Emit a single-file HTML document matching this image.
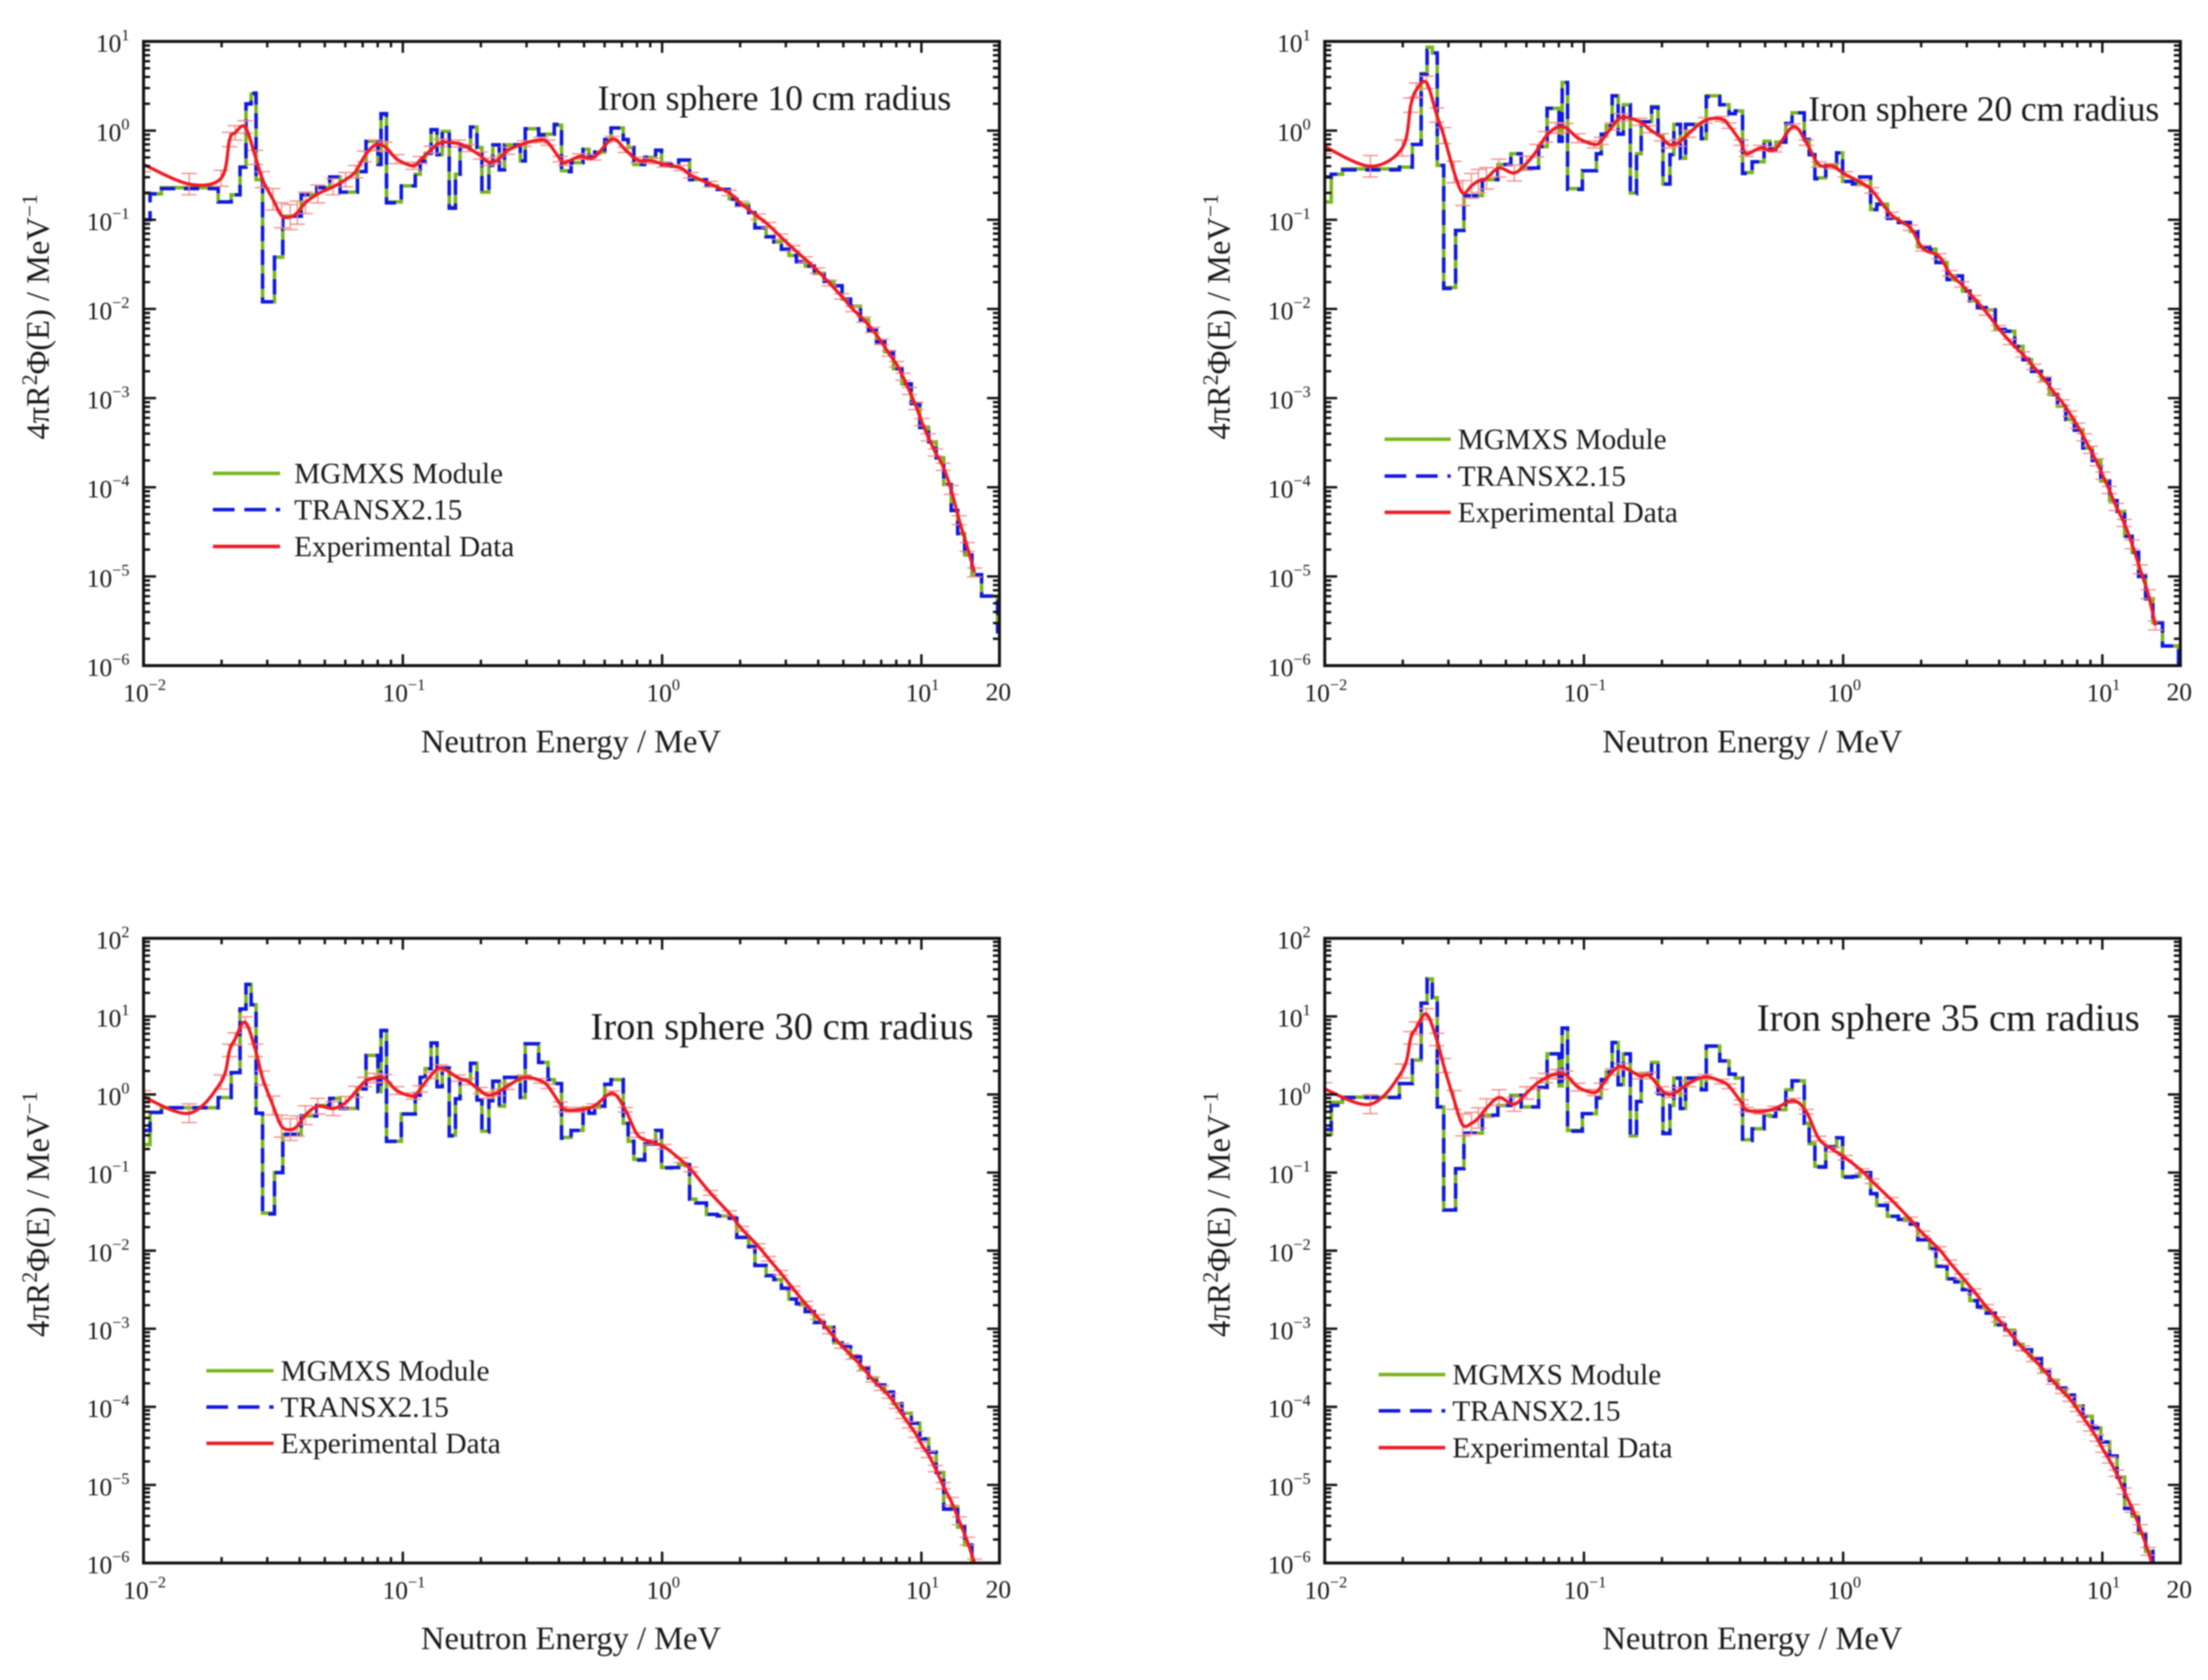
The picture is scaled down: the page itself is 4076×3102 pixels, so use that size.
<!DOCTYPE html>
<html lang="en">
<head>
<meta charset="utf-8">
<title>Iron sphere neutron leakage spectra</title>
<style>
html,body{margin:0;padding:0;background:#fff;width:4076px;height:3102px;overflow:hidden}
svg{display:block;filter:blur(1.2px)}
text{font-family:"Liberation Serif",serif;fill:#1a1a1a}
.tl{font-size:47px}
.ax{font-size:60px}
.lg{font-size:54px}
</style>
</head>
<body>
<svg id="figure" xmlns="http://www.w3.org/2000/svg" width="4076" height="3102" viewBox="0 0 4076 3102">
<rect width="4076" height="3102" fill="#fff"/>

<g id="panel-10">
  <text x="1103" y="203" font-size="66" textLength="653">Iron sphere 10 cm radius</text>
  <text class="ax" x="1054" y="1389" text-anchor="middle">Neutron Energy / MeV</text>
  <text class="ax" transform="translate(90,585) rotate(-90)" text-anchor="middle">4πR<tspan dy="-22" font-size="40">2</tspan><tspan dy="22">Φ(E) / MeV</tspan><tspan dy="-22" font-size="40">−1</tspan></text>
  <g>
    <line x1="393" x2="517" y1="874" y2="874" stroke="#7ab51d" stroke-width="6.5"/>
    <line x1="393" x2="517" y1="941" y2="941" stroke="#1018e0" stroke-width="6.5" stroke-dasharray="40 18"/>
    <line x1="393" x2="517" y1="1009" y2="1009" stroke="#ee1c25" stroke-width="6.5"/>
    <text class="lg" x="543" y="892">MGMXS Module</text>
    <text class="lg" x="543" y="959">TRANSX2.15</text>
    <text class="lg" x="543" y="1027">Experimental Data</text>
  </g>
</g>

<g id="panel-20">
  <text x="3338" y="223" font-size="66" textLength="648">Iron sphere 20 cm radius</text>
  <text class="ax" x="3235" y="1389" text-anchor="middle">Neutron Energy / MeV</text>
  <text class="ax" transform="translate(2270,585) rotate(-90)" text-anchor="middle">4πR<tspan dy="-22" font-size="40">2</tspan><tspan dy="22">Φ(E) / MeV</tspan><tspan dy="-22" font-size="40">−1</tspan></text>
  <g>
    <line x1="2556" x2="2678" y1="811" y2="811" stroke="#7ab51d" stroke-width="6.5"/>
    <line x1="2556" x2="2678" y1="879" y2="879" stroke="#1018e0" stroke-width="6.5" stroke-dasharray="40 18"/>
    <line x1="2556" x2="2678" y1="946" y2="946" stroke="#ee1c25" stroke-width="6.5"/>
    <text class="lg" x="2691" y="829">MGMXS Module</text>
    <text class="lg" x="2691" y="897">TRANSX2.15</text>
    <text class="lg" x="2691" y="964">Experimental Data</text>
  </g>
</g>

<g id="panel-30">
  <text x="1090" y="1919" font-size="71" textLength="707">Iron sphere 30 cm radius</text>
  <text class="ax" x="1054" y="3045" text-anchor="middle">Neutron Energy / MeV</text>
  <text class="ax" transform="translate(90,2242) rotate(-90)" text-anchor="middle">4πR<tspan dy="-22" font-size="40">2</tspan><tspan dy="22">Φ(E) / MeV</tspan><tspan dy="-22" font-size="40">−1</tspan></text>
  <g>
    <line x1="381" x2="505" y1="2531" y2="2531" stroke="#7ab51d" stroke-width="6.5"/>
    <line x1="381" x2="505" y1="2598" y2="2598" stroke="#1018e0" stroke-width="6.5" stroke-dasharray="40 18"/>
    <line x1="381" x2="505" y1="2665" y2="2665" stroke="#ee1c25" stroke-width="6.5"/>
    <text class="lg" x="518" y="2549">MGMXS Module</text>
    <text class="lg" x="518" y="2616">TRANSX2.15</text>
    <text class="lg" x="518" y="2683">Experimental Data</text>
  </g>
</g>

<g id="panel-35">
  <text x="3243" y="1903" font-size="71" textLength="707">Iron sphere 35 cm radius</text>
  <text class="ax" x="3235" y="3045" text-anchor="middle">Neutron Energy / MeV</text>
  <text class="ax" transform="translate(2270,2242) rotate(-90)" text-anchor="middle">4πR<tspan dy="-22" font-size="40">2</tspan><tspan dy="22">Φ(E) / MeV</tspan><tspan dy="-22" font-size="40">−1</tspan></text>
  <g>
    <line x1="2545" x2="2668" y1="2538" y2="2538" stroke="#7ab51d" stroke-width="6.5"/>
    <line x1="2545" x2="2668" y1="2605" y2="2605" stroke="#1018e0" stroke-width="6.5" stroke-dasharray="40 18"/>
    <line x1="2545" x2="2668" y1="2673" y2="2673" stroke="#ee1c25" stroke-width="6.5"/>
    <text class="lg" x="2681" y="2556">MGMXS Module</text>
    <text class="lg" x="2681" y="2623">TRANSX2.15</text>
    <text class="lg" x="2681" y="2691">Experimental Data</text>
  </g>
</g>
</svg>

<script>
// log10(E / MeV) group boundaries, shared by all panels
const groupLogEnergy = [-2.000,-1.975,-1.931,-1.712,-1.662,-1.628,-1.605,-1.585,-1.566,-1.541,-1.495,-1.463,-1.392,-1.332,-1.282,-1.242,-1.175,-1.142,-1.096,-1.084,-1.063,-1.006,-0.952,-0.933,-0.914,-0.891,-0.868,-0.848,-0.821,-0.797,-0.779,-0.739,-0.714,-0.695,-0.668,-0.653,-0.628,-0.608,-0.547,-0.528,-0.476,-0.440,-0.416,-0.388,-0.351,-0.305,-0.282,-0.260,-0.221,-0.197,-0.150,-0.131,-0.109,-0.067,-0.025,-0.002,0.036,0.064,0.106,0.130,0.171,0.213,0.259,0.288,0.334,0.358,0.401,0.431,0.460,0.489,0.518,0.552,0.587,0.625,0.662,0.694,0.727,0.765,0.796,0.827,0.859,0.892,0.925,0.961,0.994,1.028,1.057,1.086,1.115,1.140,1.167,1.195,1.232,1.294,1.301];

// log10 of group flux, one value per energy group
const mgmxs10 = [-0.70,-0.71,-0.64,-0.80,-0.72,-0.41,0.30,0.41,-0.55,-1.92,-1.42,-0.96,-0.72,-0.64,-0.52,-0.69,-0.46,-0.12,-0.38,0.18,-0.80,-0.62,-0.49,-0.34,-0.255,0.01,-0.27,-0.01,-0.86,-0.49,-0.18,0.04,-0.19,-0.69,-0.39,-0.16,-0.44,-0.16,-0.34,0.02,-0.04,-0.04,0.06,-0.45,-0.36,-0.21,-0.29,-0.24,-0.10,0.03,-0.10,-0.19,-0.38,-0.30,-0.22,-0.38,-0.40,-0.33,-0.54,-0.55,-0.62,-0.66,-0.765,-0.83,-0.92,-1.09,-1.19,-1.25,-1.33,-1.40,-1.47,-1.52,-1.60,-1.69,-1.74,-1.89,-1.97,-2.12,-2.24,-2.37,-2.48,-2.67,-2.84,-3.06,-3.33,-3.49,-3.67,-3.97,-4.26,-4.52,-4.76,-4.98,-5.22,-5.62];
const transx10 = [-1.00,-0.71,-0.65,-0.80,-0.72,-0.41,0.30,0.42,-0.55,-1.92,-1.42,-0.96,-0.72,-0.64,-0.52,-0.69,-0.46,-0.12,-0.38,0.19,-0.81,-0.62,-0.49,-0.34,-0.255,0.01,-0.27,-0.01,-0.87,-0.49,-0.18,0.04,-0.19,-0.68,-0.39,-0.16,-0.44,-0.16,-0.34,0.02,-0.05,-0.04,0.07,-0.46,-0.36,-0.21,-0.29,-0.24,-0.10,0.03,-0.10,-0.19,-0.38,-0.30,-0.22,-0.38,-0.40,-0.33,-0.55,-0.55,-0.62,-0.66,-0.77,-0.83,-0.92,-1.09,-1.19,-1.25,-1.33,-1.40,-1.47,-1.52,-1.61,-1.69,-1.74,-1.89,-1.97,-2.12,-2.24,-2.37,-2.48,-2.67,-2.84,-3.06,-3.33,-3.49,-3.67,-3.97,-4.26,-4.52,-4.76,-4.98,-5.22,-5.62];

const mgmxs20 = [-0.80,-0.49,-0.43,-0.41,-0.155,0.64,0.935,0.87,-0.39,-1.76,-1.12,-0.73,-0.55,-0.38,-0.26,-0.42,-0.18,0.25,-0.12,0.54,-0.65,-0.45,-0.26,-0.04,0.055,0.39,-0.04,0.29,-0.70,-0.26,0.10,0.27,-0.05,-0.60,-0.27,0.07,-0.31,0.07,-0.09,0.39,0.29,0.19,0.22,-0.47,-0.35,-0.12,-0.21,-0.13,0.08,0.20,-0.10,-0.27,-0.53,-0.39,-0.25,-0.57,-0.59,-0.52,-0.885,-0.825,-0.985,-1.03,-1.13,-1.305,-1.33,-1.48,-1.67,-1.63,-1.80,-1.91,-1.985,-2.01,-2.23,-2.25,-2.42,-2.57,-2.70,-2.79,-2.96,-3.09,-3.24,-3.36,-3.56,-3.70,-3.93,-4.15,-4.27,-4.55,-4.73,-5.00,-5.25,-5.52,-5.78,-6.20];
const transx20 = [-0.52,-0.49,-0.44,-0.41,-0.155,0.63,0.90,0.87,-0.39,-1.77,-1.12,-0.73,-0.55,-0.38,-0.26,-0.42,-0.18,0.25,-0.12,0.54,-0.66,-0.45,-0.26,-0.04,0.055,0.39,-0.04,0.29,-0.71,-0.26,0.10,0.26,-0.05,-0.60,-0.27,0.07,-0.31,0.07,-0.09,0.38,0.29,0.19,0.22,-0.48,-0.35,-0.12,-0.21,-0.13,0.08,0.20,-0.10,-0.27,-0.54,-0.39,-0.25,-0.57,-0.60,-0.52,-0.885,-0.825,-0.985,-1.03,-1.13,-1.305,-1.34,-1.48,-1.67,-1.63,-1.80,-1.91,-1.985,-2.01,-2.23,-2.25,-2.42,-2.57,-2.70,-2.79,-2.96,-3.09,-3.24,-3.36,-3.56,-3.70,-3.93,-4.15,-4.27,-4.55,-4.73,-5.00,-5.25,-5.52,-5.78,-6.20];

const mgmxs30 = [-0.64,-0.23,-0.17,-0.04,0.28,1.095,1.41,1.15,-0.24,-1.52,-1.00,-0.51,-0.275,-0.14,-0.05,-0.18,0.07,0.50,0.035,0.82,-0.60,-0.25,-0.01,0.22,0.33,0.66,0.10,0.34,-0.52,-0.055,0.19,0.40,-0.07,-0.47,-0.08,0.17,-0.15,0.22,-0.04,0.65,0.41,0.19,0.14,-0.55,-0.46,-0.17,-0.24,-0.15,0.13,0.19,-0.37,-0.60,-0.83,-0.635,-0.46,-0.935,-0.935,-0.90,-1.34,-1.39,-1.535,-1.555,-1.585,-1.83,-1.95,-2.19,-2.32,-2.37,-2.48,-2.62,-2.68,-2.78,-2.92,-2.98,-3.18,-3.23,-3.36,-3.51,-3.63,-3.72,-3.81,-3.96,-4.08,-4.21,-4.41,-4.58,-4.84,-5.31,-5.28,-5.54,-5.77,-6.10,-6.50,-7.00];
const transx30 = [-0.46,-0.23,-0.17,-0.04,0.28,1.095,1.41,1.15,-0.24,-1.53,-1.00,-0.51,-0.275,-0.14,-0.05,-0.18,0.07,0.50,0.035,0.82,-0.60,-0.25,-0.01,0.22,0.33,0.66,0.10,0.34,-0.53,-0.055,0.19,0.40,-0.07,-0.48,-0.08,0.17,-0.15,0.22,-0.04,0.65,0.41,0.19,0.14,-0.56,-0.46,-0.17,-0.24,-0.15,0.13,0.19,-0.37,-0.60,-0.84,-0.635,-0.46,-0.94,-0.935,-0.90,-1.34,-1.39,-1.535,-1.555,-1.585,-1.83,-1.95,-2.19,-2.32,-2.37,-2.48,-2.62,-2.68,-2.78,-2.92,-2.98,-3.18,-3.23,-3.36,-3.51,-3.63,-3.72,-3.81,-3.96,-4.08,-4.21,-4.41,-4.58,-4.84,-5.31,-5.28,-5.54,-5.77,-6.10,-6.50,-7.00];

const mgmxs35 = [-0.51,-0.10,-0.035,0.14,0.44,1.17,1.48,1.24,-0.16,-1.48,-0.95,-0.495,-0.265,-0.14,-0.01,-0.16,0.09,0.52,0.11,0.85,-0.46,-0.245,-0.045,0.19,0.29,0.665,0.125,0.52,-0.53,-0.09,0.27,0.41,0.01,-0.495,-0.14,0.21,-0.18,0.21,0.06,0.62,0.43,0.26,0.21,-0.58,-0.44,-0.265,-0.28,-0.195,0.06,0.175,-0.37,-0.63,-0.92,-0.67,-0.555,-1.05,-1.05,-1.00,-1.27,-1.42,-1.56,-1.60,-1.66,-1.86,-1.97,-2.20,-2.36,-2.40,-2.50,-2.64,-2.72,-2.80,-2.95,-3.02,-3.20,-3.27,-3.38,-3.55,-3.66,-3.76,-3.85,-3.99,-4.12,-4.27,-4.45,-4.63,-4.90,-5.30,-5.40,-5.62,-5.85,-6.20,-6.60,-7.00];
const transx35 = [-0.45,-0.14,-0.04,0.14,0.44,1.17,1.48,1.24,-0.16,-1.48,-0.95,-0.495,-0.265,-0.14,-0.01,-0.16,0.09,0.52,0.11,0.85,-0.47,-0.245,-0.045,0.19,0.29,0.665,0.125,0.52,-0.53,-0.09,0.27,0.41,0.01,-0.50,-0.14,0.21,-0.18,0.21,0.06,0.62,0.43,0.26,0.21,-0.59,-0.44,-0.265,-0.28,-0.195,0.06,0.175,-0.37,-0.63,-0.93,-0.67,-0.555,-1.06,-1.05,-1.00,-1.27,-1.42,-1.56,-1.60,-1.66,-1.86,-1.97,-2.20,-2.36,-2.40,-2.50,-2.64,-2.72,-2.80,-2.95,-3.02,-3.20,-3.27,-3.38,-3.55,-3.66,-3.76,-3.85,-3.99,-4.12,-4.27,-4.45,-4.63,-4.90,-5.30,-5.40,-5.62,-5.85,-6.20,-6.60,-7.00];

// experimental points: log10(E / MeV), shared by all panels
const expLogEnergy = [-2.000,-1.824,-1.701,-1.668,-1.647,-1.608,-1.568,-1.541,-1.501,-1.468,-1.434,-1.407,-1.376,-1.328,-1.269,-1.221,-1.182,-1.148,-1.109,-1.069,-1.023,-0.960,-0.933,-0.891,-0.853,-0.785,-0.747,-0.701,-0.672,-0.635,-0.597,-0.532,-0.468,-0.440,-0.393,-0.374,-0.319,-0.263,-0.192,-0.142,-0.094,-0.040,0.008,0.073,0.111,0.186,0.259,0.307,0.370,0.411,0.457,0.505,0.553,0.599,0.645,0.693,0.735,0.777,0.812,0.846,0.875,0.904,0.929,0.954,0.979,1.002,1.027,1.054,1.084,1.115,1.146,1.177,1.205];
// half-height of each error bar, in decades
const expLogError = [0.08,0.12,0.09,0.08,0.08,0.07,0.08,0.09,0.12,0.14,0.14,0.13,0.12,0.10,0.09,0.08,0.07,0.06,0.06,0.05,0.05,0.04,0.04,0.04,0.04,0.04,0.04,0.04,0.04,0.04,0.04,0.03,0.03,0.03,0.03,0.03,0.03,0.03,0.03,0.03,0.03,0.03,0.03,0.03,0.03,0.03,0.03,0.03,0.03,0.03,0.03,0.03,0.03,0.03,0.03,0.03,0.03,0.03,0.03,0.03,0.03,0.03,0.04,0.04,0.04,0.04,0.04,0.04,0.04,0.05,0.05,0.05,0.05];

const exp10 = [-0.38,-0.60,-0.535,-0.10,-0.025,0.04,-0.30,-0.55,-0.77,-0.95,-0.97,-0.92,-0.81,-0.71,-0.63,-0.55,-0.46,-0.29,-0.165,-0.18,-0.32,-0.395,-0.33,-0.215,-0.135,-0.145,-0.195,-0.28,-0.35,-0.33,-0.225,-0.145,-0.105,-0.135,-0.32,-0.36,-0.29,-0.30,-0.095,-0.215,-0.33,-0.34,-0.38,-0.42,-0.50,-0.60,-0.70,-0.825,-0.965,-1.06,-1.19,-1.32,-1.445,-1.57,-1.71,-1.86,-2.00,-2.12,-2.235,-2.37,-2.50,-2.62,-2.76,-2.92,-3.09,-3.27,-3.44,-3.61,-3.77,-4.03,-4.37,-4.67,-4.955];
const exp20 = [-0.18,-0.40,-0.195,0.285,0.455,0.54,0.175,-0.055,-0.465,-0.70,-0.62,-0.565,-0.535,-0.42,-0.475,-0.365,-0.225,-0.07,0.03,0.03,-0.085,-0.155,-0.115,0.045,0.15,0.10,0.015,-0.075,-0.155,-0.135,-0.035,0.115,0.13,0.055,-0.135,-0.26,-0.195,-0.21,0.045,-0.135,-0.38,-0.40,-0.49,-0.59,-0.67,-0.945,-1.09,-1.32,-1.41,-1.60,-1.725,-1.88,-2.04,-2.215,-2.37,-2.51,-2.65,-2.79,-2.93,-3.05,-3.175,-3.31,-3.44,-3.58,-3.72,-3.87,-4.03,-4.22,-4.40,-4.64,-4.92,-5.20,-5.55];
const exp30 = [-0.03,-0.24,0.16,0.565,0.71,0.925,0.565,0.21,-0.14,-0.405,-0.45,-0.405,-0.265,-0.15,-0.18,-0.105,0.035,0.16,0.21,0.205,0.05,-0.02,0.07,0.245,0.34,0.21,0.165,0.05,-0.01,0.025,0.105,0.22,0.175,0.105,-0.125,-0.195,-0.195,-0.15,0.015,-0.195,-0.52,-0.61,-0.67,-0.84,-0.96,-1.26,-1.52,-1.72,-1.94,-2.105,-2.285,-2.485,-2.68,-2.85,-3.035,-3.22,-3.36,-3.51,-3.65,-3.76,-3.86,-3.99,-4.11,-4.23,-4.35,-4.49,-4.61,-4.79,-5.01,-5.21,-5.46,-5.72,-6.00];
const exp35 = [0.07,-0.125,0.30,0.725,0.85,1.03,0.705,0.37,-0.07,-0.39,-0.37,-0.30,-0.175,-0.04,-0.125,0.02,0.14,0.21,0.26,0.25,0.095,0.025,0.105,0.29,0.355,0.24,0.24,0.06,0.00,0.05,0.14,0.225,0.165,0.105,-0.10,-0.195,-0.22,-0.18,-0.08,-0.22,-0.565,-0.705,-0.81,-0.98,-1.11,-1.35,-1.60,-1.78,-1.98,-2.15,-2.33,-2.52,-2.72,-2.88,-3.06,-3.25,-3.39,-3.54,-3.68,-3.80,-3.90,-4.03,-4.15,-4.27,-4.40,-4.54,-4.68,-4.85,-5.08,-5.30,-5.56,-5.85,-6.15];

// axis ticks (decade exponents)
const xTickExponents = [-2,-1,0,1];
const xExtraTickLabel = ['20'];
const yTickExponentsTop = [1,0,-1,-2,-3,-4,-5,-6];
const yTickExponentsBottom = [2,1,0,-1,-2,-3,-4,-5,-6];
const minorMultiples = [2,3,4,5,6,7,8,9];

const NS = 'http://www.w3.org/2000/svg';
const X_MIN = -2, X_MAX = Math.log10(20);

const panels = [
  {id:'panel-10', left:265,    right:1845, top:76.5,   bottom:1229, ticks:yTickExponentsTop,    green:mgmxs10, blue:transx10, red:exp10},
  {id:'panel-20', left:2445.5, right:4025, top:76.5,   bottom:1229, ticks:yTickExponentsTop,    green:mgmxs20, blue:transx20, red:exp20},
  {id:'panel-30', left:265,    right:1845, top:1732.5, bottom:2886, ticks:yTickExponentsBottom, green:mgmxs30, blue:transx30, red:exp30},
  {id:'panel-35', left:2445.5, right:4025, top:1732.5, bottom:2886, ticks:yTickExponentsBottom, green:mgmxs35, blue:transx35, red:exp35}
];

function make(tag, attrs, parent){
  const el = document.createElementNS(NS, tag);
  for (const k in attrs) el.setAttribute(k, attrs[k]);
  parent.appendChild(el);
  return el;
}

function stepPath(edges, values, xf, yf){
  let d = 'M' + xf(edges[0]).toFixed(1) + ' ' + yf(values[0]).toFixed(1);
  for (let i = 0; i < values.length; i++){
    d += 'H' + xf(edges[i+1]).toFixed(1);
    if (i + 1 < values.length) d += 'V' + yf(values[i+1]).toFixed(1);
  }
  return d;
}

// smooth curve through the experimental points (Catmull-Rom to Bezier)
function smoothPath(pts){
  let d = 'M' + pts[0][0].toFixed(1) + ' ' + pts[0][1].toFixed(1);
  for (let i = 0; i < pts.length - 1; i++){
    const p0 = pts[Math.max(i-1,0)], p1 = pts[i], p2 = pts[i+1], p3 = pts[Math.min(i+2,pts.length-1)];
    const c1x = p1[0] + (p2[0]-p0[0])/6, c1y = p1[1] + (p2[1]-p0[1])/6;
    const c2x = p2[0] - (p3[0]-p1[0])/6, c2y = p2[1] - (p3[1]-p1[1])/6;
    d += 'C' + c1x.toFixed(1) + ' ' + c1y.toFixed(1) + ' ' + c2x.toFixed(1) + ' ' + c2y.toFixed(1) + ' ' + p2[0].toFixed(1) + ' ' + p2[1].toFixed(1);
  }
  return d;
}

function powerLabel(parent, exponent, x, y, anchor){
  const t = make('text', {x:x, y:y, 'text-anchor':anchor, class:'tl'}, parent);
  t.appendChild(document.createTextNode('10'));
  const sup = make('tspan', {dy:-21, 'font-size':30}, t);
  sup.textContent = (exponent < 0 ? '\u2212' : '') + Math.abs(exponent);
  return t;
}

panels.forEach(function(p){
  const g = document.getElementById(p.id);
  const yMax = p.ticks[0], yMin = p.ticks[p.ticks.length-1];
  const xf = function(v){ return p.left + (v - X_MIN) / (X_MAX - X_MIN) * (p.right - p.left); };
  const yf = function(v){ return p.top + (yMax - v) / (yMax - yMin) * (p.bottom - p.top); };

  const clip = make('clipPath', {id:'clip-' + p.id}, g);
  make('rect', {x:p.left, y:p.top, width:p.right-p.left, height:p.bottom-p.top}, clip);
  const plot = make('g', {'clip-path':'url(#clip-' + p.id + ')'}, g);
  
  

  const green = make('path', {d:stepPath(groupLogEnergy, p.green, xf, yf), fill:'none', stroke:'#7ab51d', 'stroke-width':6.5, 'stroke-linejoin':'miter'}, plot);
  
  

  const blue = make('path', {d:stepPath(groupLogEnergy, p.blue, xf, yf), fill:'none', stroke:'#1018e0', 'stroke-width':6.5, 'stroke-dasharray':'28 16', 'stroke-linejoin':'miter'}, plot);
  
  

  expLogEnergy.forEach(function(e, i){
    const v = p.red[i], err = expLogError[i], x = xf(e), hw = 14;
    const bar = make('path', {
      d:'M' + x.toFixed(1) + ' ' + yf(v+err).toFixed(1) + 'V' + yf(v-err).toFixed(1) +
        'M' + (x-hw).toFixed(1) + ' ' + yf(v+err).toFixed(1) + 'h' + 2*hw +
        'M' + (x-hw).toFixed(1) + ' ' + yf(v-err).toFixed(1) + 'h' + 2*hw,
      fill:'none', stroke:'#f08a86', 'stroke-width':2.4}, plot);
    
    
  });

  const redPts = expLogEnergy.map(function(e, i){ return [xf(e), yf(p.red[i])]; });
  const red = make('path', {d:smoothPath(redPts), fill:'none', stroke:'#ee1c25', 'stroke-width':6, 'stroke-linejoin':'round'}, plot);
  
  

  const axes = make('g', {stroke:'#111', 'stroke-width':4.4}, g);
  
  

  // x ticks on bottom and top
  for (let ex = -2; ex <= 1; ex++){
    [1].concat(minorMultiples).forEach(function(m){
      const v = ex + Math.log10(m);
      if (v > X_MAX + 1e-6) return;
      const len = m === 1 ? 21 : 11, x = xf(v);
      const b = make('line', {x1:x, x2:x, y1:p.bottom, y2:p.bottom-len}, axes);
      
      
      const t = make('line', {x1:x, x2:x, y1:p.top, y2:p.top+len}, axes);
      
      
    });
  }
  // y ticks on left and right
  p.ticks.forEach(function(ex){
    [1].concat(minorMultiples).forEach(function(m){
      const v = ex + Math.log10(m);
      if (v > yMax + 1e-6) return;
      const len = m === 1 ? 23 : 12, y = yf(v);
      const l = make('line', {x1:p.left, x2:p.left+len, y1:y, y2:y}, axes);
      
      
      const r = make('line', {x1:p.right, x2:p.right-len, y1:y, y2:y}, axes);
      
      
    });
  });

  const frame = make('rect', {x:p.left, y:p.top, width:p.right-p.left, height:p.bottom-p.top, fill:'none', stroke:'#111', 'stroke-width':5.5}, g);
  
  

  // tick labels
  xTickExponents.forEach(function(ex){
    const t = powerLabel(g, ex, xf(ex) + 2, p.bottom + 66, 'middle');
    
    
  });
  xExtraTickLabel.forEach(function(lbl){
    const t = make('text', {x:xf(Math.log10(Number(lbl))) - 2, y:p.bottom + 64, 'text-anchor':'middle', class:'tl'}, g);
    t.textContent = lbl;
    
    
  });
  p.ticks.forEach(function(ex){
    const t = powerLabel(g, ex, p.left - 26, yf(ex) + 19, 'end');
    
    
  });
});
</script>
</body>
</html>
